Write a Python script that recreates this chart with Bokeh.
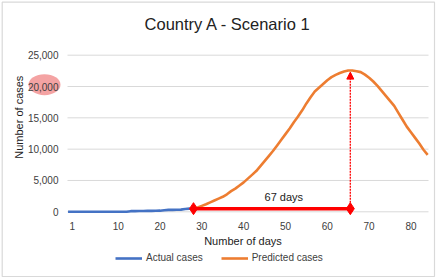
import numpy as np
from bokeh.plotting import figure
from bokeh.models import (Range1d, FixedTicker, NumeralTickFormatter, Legend, LegendItem,
                          Label, Arrow, NormalHead)
from bokeh.embed import file_html
from bokeh.resources import INLINE

# ---- data ----
title_text = "Country A - Scenario 1"
x_label = "Number of days"
y_label = "Number of cases"

actual_days = list(range(-2, 29))
actual_cases = [0] * 15 + [100, 100, 120, 130, 150, 150, 160, 180,
                           250, 300, 300, 320, 350, 450, 500, 500]

predicted_days = list(range(28, 85))
predicted_cases = [500, 700, 950, 1200, 1500, 1800, 2100, 2400, 2800, 3300,
                   3700, 4200, 4700, 5300, 5900, 6500, 7300, 8100, 8900, 9700,
                   10600, 11500, 12400, 13300, 14300, 15200, 16200, 17300, 18300, 19200,
                   19800, 20400, 21000, 21500, 21850, 22150, 22400, 22550, 22550, 22450,
                   22300, 21900, 21400, 20800, 20100, 19300, 18500, 17700, 16900, 15800,
                   14700, 13600, 12700, 11800, 10900, 9900, 9100]

span_days = [28, 65.5]
span_cases = [500, 500]
peak_day = 65.5
peak_cases = 22550
span_text = "67 days"

x_ticks = [-1, 10, 20, 30, 40, 50, 60, 70, 80]
x_tick_labels = ["1", "10", "20", "30", "40", "50", "60", "70", "80"]
y_ticks = [0, 5000, 10000, 15000, 20000, 25000]
highlight_tick = 20000

# ---- layout (pixels) ----
W, H = 440, 279
PLOT_L, PLOT_R = 67, 428          # plotting area, px
PLOT_T, PLOT_B = 54.7, 211.3
X_MIN, X_MAX = -2.13, 84.2        # days at plotting-area edges
Y_MIN, Y_MAX = 0, 25000

kx = (PLOT_R - PLOT_L) / (X_MAX - X_MIN)
ky = (PLOT_B - PLOT_T) / (Y_MAX - Y_MIN)
x0 = X_MIN - PLOT_L / kx
y0 = Y_MIN - (H - PLOT_B) / ky


def px(xp):
    return x0 + xp / kx


def py(yp):
    return y0 + (H - yp) / ky


FONT = "Liberation Sans"
BLUE = "#4472C4"
ORANGE = "#ED7D31"
RED = "#FF0000"
GRID = "#D9D9D9"
TXT = "#404040"
DARK = "#222222"

p = figure(width=W, height=H, output_backend="svg", toolbar_location=None,
           x_range=Range1d(x0, x0 + W / kx), y_range=Range1d(y0, y0 + H / ky),
           min_border=0, background_fill_color="white", border_fill_color="white")
p.outline_line_color = None
p.title.visible = False
p.xgrid.visible = False
p.ygrid.visible = False

# axes: labels pulled back over the plotting area
p.xaxis.ticker = FixedTicker(ticks=x_ticks)
p.xaxis.major_label_overrides = {t: l for t, l in zip(x_ticks, x_tick_labels)}
p.yaxis.ticker = FixedTicker(ticks=y_ticks)
p.yaxis.formatter = NumeralTickFormatter(format="0,0")
for ax in (p.xaxis, p.yaxis):
    ax.major_tick_line_color = None
    ax.minor_tick_line_color = None
    ax.major_tick_out = 0
    ax.major_tick_in = 0
    ax.minor_tick_out = 0
    ax.axis_line_color = None
    ax.major_label_text_font = FONT
    ax.major_label_text_font_size = "10px"
    ax.major_label_text_color = TXT
p.xaxis.major_label_standoff = -int(round(H - PLOT_B)) + 10
p.yaxis.major_label_standoff = -58

# outer chart border
p.quad(left=[px(1.7)], right=[px(434)], top=[py(1.7)], bottom=[py(276)],
       fill_color=None, line_color=GRID, line_width=1.2)

# highlight ellipse behind the 20,000 tick label
p.ellipse(x=[px(44)], y=[highlight_tick + 300], width=32, height=21,
          width_units="screen", height_units="screen",
          fill_color="#F4A3A3", line_color=None)

# horizontal grid lines across the plotting area only
p.segment(x0=[X_MIN] * len(y_ticks), x1=[X_MAX] * len(y_ticks), y0=y_ticks, y1=y_ticks,
          line_color=GRID, line_width=1)

# series
r_act = p.line(actual_days, actual_cases, line_color=BLUE, line_width=2.6)
r_pred = p.line(predicted_days, predicted_cases, line_color=ORANGE, line_width=2.6)

# span line and markers
p.line(span_days, span_cases, line_color=RED, line_width=3.5)
p.scatter(span_days, span_cases, marker="diamond", size=12, fill_color=RED, line_color=RED)

# dotted arrow to peak
p.add_layout(Arrow(x_start=peak_day, y_start=span_cases[1], x_end=peak_day, y_end=peak_cases - 250,
                   line_color=RED, line_width=1.3, line_dash="2 1",
                   end=NormalHead(size=7, fill_color=RED, line_color=RED)))

p.add_layout(Label(x=49.6, y=2330, text=span_text, text_align="center", text_baseline="middle",
                   text_font=FONT, text_font_size="11px", text_color=DARK))

# titles
p.add_layout(Label(x=px(227.5), y=py(23), text=title_text, text_align="center",
                   text_baseline="middle", text_font=FONT, text_font_size="16.5px",
                   text_color=DARK))
p.add_layout(Label(x=px(242.5), y=py(240), text=x_label, text_align="center",
                   text_baseline="middle", text_font=FONT, text_font_size="11px",
                   text_color=DARK))
p.add_layout(Label(x=px(18.3), y=py(116.7), text=y_label, angle=np.pi / 2,
                   text_align="center", text_baseline="middle",
                   text_font=FONT, text_font_size="11px", text_color=DARK))

legend = Legend(items=[LegendItem(label="Actual cases", renderers=[r_act]),
                       LegendItem(label="Predicted cases", renderers=[r_pred])],
                orientation="horizontal", location=(115, 16),
                border_line_color=None, background_fill_alpha=0,
                glyph_width=27, glyph_height=10, label_standoff=4, spacing=18,
                padding=0, margin=0,
                label_text_font=FONT, label_text_font_size="10px", label_text_color=TXT)
p.add_layout(legend)

open("out.html", "w").write(file_html(p, INLINE))
